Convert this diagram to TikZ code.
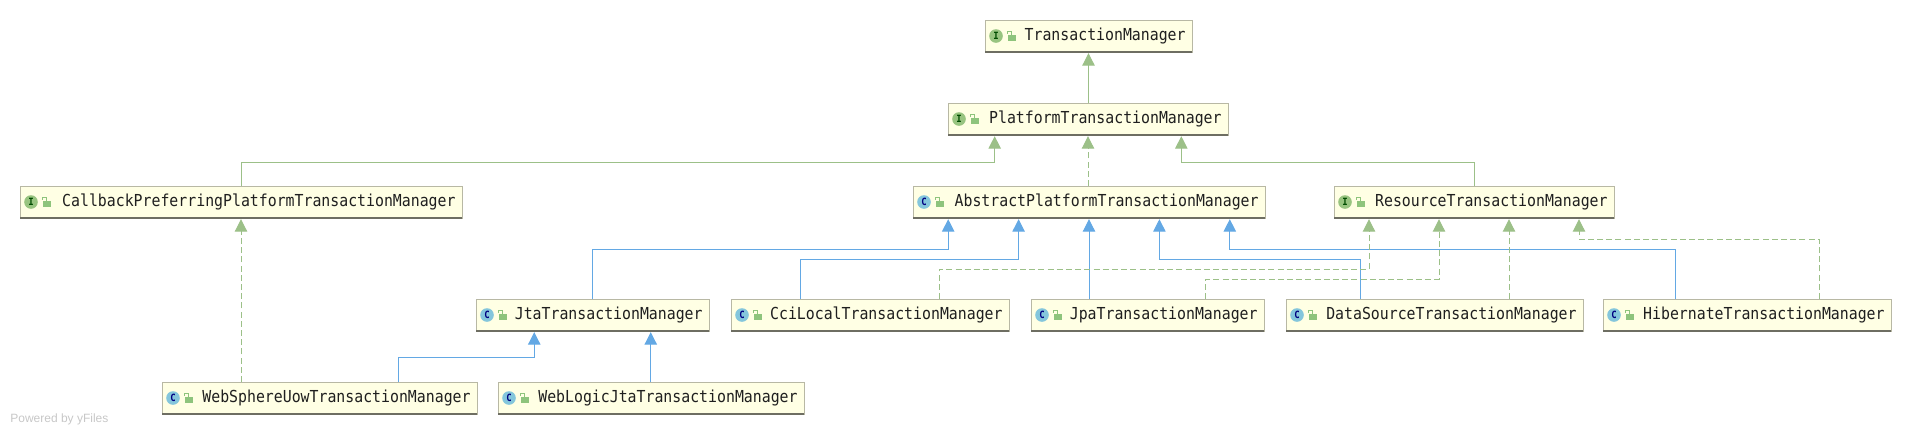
\documentclass[tikz,border=0pt]{standalone}
\usepackage{fontspec}
\setmonofont[FakeStretch=0.9]{DejaVu Sans Mono}
\setsansfont{Liberation Sans}
\usetikzlibrary{positioning,calc,arrows.meta}
\definecolor{boxfill}{HTML}{FFFFE4}
\definecolor{boxline}{HTML}{B8B8A4}
\definecolor{boxshade}{HTML}{6E6E62}
\definecolor{edgegreen}{HTML}{9CC088}
\definecolor{edgeblue}{HTML}{63A8E4}
\definecolor{iconi}{HTML}{98C480}
\definecolor{iconc}{HTML}{84C6DC}
\definecolor{lockgreen}{HTML}{8EC47C}
\tikzset{
  classbox/.style  = {rectangle,draw=boxline,fill=boxfill,line width=0.5pt,inner sep=0pt,outer sep=0pt,minimum height=16pt},
  classname/.style = {inner sep=0pt, text=black!88, font=\fontsize{8.25}{10}\selectfont\ttfamily},
  classicon/.style = {circle,inner sep=0pt,minimum size=6.8pt,font=\fontsize{5}{5}\selectfont\ttfamily\bfseries},
  ifaceicon/.style = {classicon,fill=iconi,text=green!30!black},
  classicn/.style  = {classicon,fill=iconc,text=blue!50!black},
  extgreen/.style  = {draw=edgegreen,line width=0.5pt,-{Triangle[length=6.2pt,width=6.2pt]},shorten >=0.6pt},
  impgreen/.style  = {extgreen,dashed,dash pattern=on 3pt off 1.6pt},
  extblue/.style   = {draw=edgeblue,line width=0.5pt,-{Triangle[length=6.2pt,width=6.2pt]},shorten >=0.6pt},
}
\newcommand{\DrawClass}[6]{%
  % draws the box and its lower edge
  \node[classbox,minimum width=#3*0.5pt] (#1) at #2 {};
  \draw[boxshade,line width=0.6pt] (#1.south west)--(#1.south east);
  % displays kind icon and name
  \node[#4] (#1icon) at ($(#1.west)+(11,0)$) {#5};
  \node[classname,anchor=east] (#1name) at ($(#1.east)+(-6,0)$) {#6};
  % draws the open lock
  \fill[lockgreen] ($(#1.west)+(23,-1)$) rectangle ($(#1.west)+(31,5)$);
  \draw[lockgreen,line width=0.5pt] ($(#1.west)+(26,-1)$)--($(#1.west)+(26,-5)$)--($(#1.west)+(22,-5)$)--($(#1.west)+(22,-2)$);
}
% connector going up, across, and up again into the target
\newcommand{\DrawEdge}[6]{%
  \coordinate (#2to#4) at ($(#4.south west)!#5!(#4.south east)$);
  \draw[#1] ($(#2.north west)!#3!(#2.north east)$) |- ($(#2to#4)+(0,#6)$) -- (#2to#4);
}
% straight connector
\newcommand{\DrawUp}[4]{%
  \coordinate (#2to#3) at ($(#3.south west)!#4!(#3.south east)$);
  \draw[#1] (#2to#3 |- #2.north) -- (#2to#3);
}
\begin{document}
\begin{tikzpicture}[x=0.5pt,y=-0.5pt]
    \useasboundingbox (0,0) rectangle (1913,435);

    \DrawClass{tm}{(1088.5,36)}{207}{ifaceicon}{I}{TransactionManager}
    \DrawClass{platform}{(1088,119)}{280}{ifaceicon}{I}{PlatformTransactionManager}
    \DrawClass{callback}{(241,202)}{442}{ifaceicon}{I}{CallbackPreferringPlatformTransactionManager}
    \DrawClass{abstract}{(1089,202)}{352}{classicn}{C}{AbstractPlatformTransactionManager}
    \DrawClass{resource}{(1474,202)}{280}{ifaceicon}{I}{ResourceTransactionManager}
    \DrawClass{jta}{(592.5,315)}{233}{classicn}{C}{JtaTransactionManager}
    \DrawClass{cci}{(870,315)}{278}{classicn}{C}{CciLocalTransactionManager}
    \DrawClass{jpa}{(1147.5,315)}{233}{classicn}{C}{JpaTransactionManager}
    \DrawClass{datasrc}{(1434.5,315)}{297}{classicn}{C}{DataSourceTransactionManager}
    \DrawClass{hibernate}{(1747,315)}{288}{classicn}{C}{HibernateTransactionManager}
    \DrawClass{websphere}{(319.5,398)}{315}{classicn}{C}{WebSphereUowTransactionManager}
    \DrawClass{weblogic}{(651,398)}{306}{classicn}{C}{WebLogicJtaTransactionManager}

    \DrawUp{extgreen}{platform}{tm}{0.5}
    \DrawUp{impgreen}{abstract}{platform}{0.5}
    \DrawEdge{extgreen}{callback}{0.5}{platform}{0.1667}{27}
    \DrawEdge{extgreen}{resource}{0.5}{platform}{0.8333}{27}

    \DrawEdge{extblue}{jta}{0.5}{abstract}{0.1}{31}
    \DrawEdge{extblue}{cci}{0.25}{abstract}{0.3}{41}
    \DrawUp{extblue}{jpa}{abstract}{0.5}
    \DrawEdge{extblue}{datasrc}{0.25}{abstract}{0.7}{41}
    \DrawEdge{extblue}{hibernate}{0.25}{abstract}{0.9}{31}

    \DrawEdge{impgreen}{cci}{0.75}{resource}{0.125}{51}
    \DrawEdge{impgreen}{jpa}{0.75}{resource}{0.375}{61}
    \DrawUp{impgreen}{datasrc}{resource}{0.625}
    \DrawEdge{impgreen}{hibernate}{0.75}{resource}{0.875}{21}

    \DrawUp{impgreen}{websphere}{callback}{0.5}
    \DrawEdge{extblue}{websphere}{0.75}{jta}{0.25}{26}
    \DrawUp{extblue}{weblogic}{jta}{0.75}

    \node[anchor=west,inner sep=0pt,text=black!22,font=\fontsize{6}{7}\selectfont\sffamily] (powered) at (10,419) {Powered by yFiles};
\end{tikzpicture}
\end{document}
